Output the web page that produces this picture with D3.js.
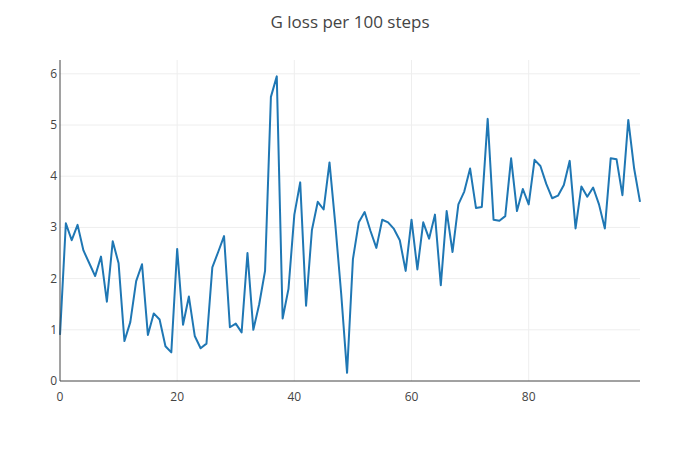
<!DOCTYPE html>
<html><head><meta charset="utf-8">
<script src="https://d3js.org/d3.v7.min.js"></script>
<style>body{margin:0;background:#fff}text{font-family:"Open Sans",Verdana,Arial,sans-serif}</style>
</head><body><svg id="c" width="700" height="450"></svg>
<script>
const lossValues=[0.9,3.08,2.75,3.05,2.55,2.3,2.05,2.43,1.55,2.73,2.3,0.78,1.15,1.95,2.28,0.9,1.32,1.2,0.68,0.56,2.58,1.1,1.65,0.88,0.64,0.73,2.22,2.52,2.83,1.05,1.12,0.95,2.5,1.0,1.5,2.15,5.55,5.95,1.22,1.8,3.25,3.88,1.47,2.95,3.5,3.35,4.27,3.05,1.7,0.16,2.38,3.1,3.3,2.93,2.6,3.15,3.1,2.97,2.75,2.15,3.15,2.18,3.1,2.78,3.25,1.87,3.32,2.52,3.45,3.7,4.15,3.38,3.4,5.12,3.15,3.13,3.22,4.35,3.32,3.75,3.45,4.32,4.2,3.85,3.57,3.62,3.83,4.3,2.98,3.8,3.6,3.78,3.45,2.98,4.35,4.33,3.63,5.1,4.15,3.5];
const steps=lossValues.map((d,i)=>i);
const xTicks=[0,20,40,60,80];
const yTicks=[0,1,2,3,4,5,6];
const svg=d3.select("#c");
const x=d3.scaleLinear().domain([0,99]).range([60,640]);
const y=d3.scaleLinear().domain([0,6.27]).range([381,60]);
const g=svg.append("g");
g.selectAll(".gx").data(xTicks.slice(1)).enter().append("line").attr("x1",d=>x(d)).attr("x2",d=>x(d)).attr("y1",60).attr("y2",381).attr("stroke","#eee");
g.selectAll(".gy").data(yTicks.slice(1)).enter().append("line").attr("x1",60).attr("x2",640).attr("y1",d=>y(d)).attr("y2",d=>y(d)).attr("stroke","#eee");
svg.append("path").datum(steps).attr("fill","none").attr("stroke","#1f77b4").attr("stroke-width",2).attr("stroke-linejoin","round")
 .attr("d",d3.line().x(i=>x(i)).y(i=>y(lossValues[i])));
svg.append("line").attr("x1",60).attr("x2",640).attr("y1",381).attr("y2",381).attr("stroke","#444").attr("stroke-width",1);
svg.append("line").attr("x1",60).attr("x2",60).attr("y1",60).attr("y2",381).attr("stroke","#444").attr("stroke-width",1);
svg.selectAll(".xt").data(xTicks).enter().append("text").attr("x",d=>x(d)).attr("y",401).attr("text-anchor","middle").attr("font-size",12).attr("fill","#444").text(d=>d);
svg.selectAll(".yt").data(yTicks).enter().append("text").attr("x",57).attr("y",d=>y(d)+4).attr("text-anchor","end").attr("font-size",12).attr("fill","#444").text(d=>d);
svg.append("text").attr("x",350).attr("y",28).attr("text-anchor","middle").attr("font-size",17).attr("fill","#444").text("G loss per 100 steps");
</script></body></html>
